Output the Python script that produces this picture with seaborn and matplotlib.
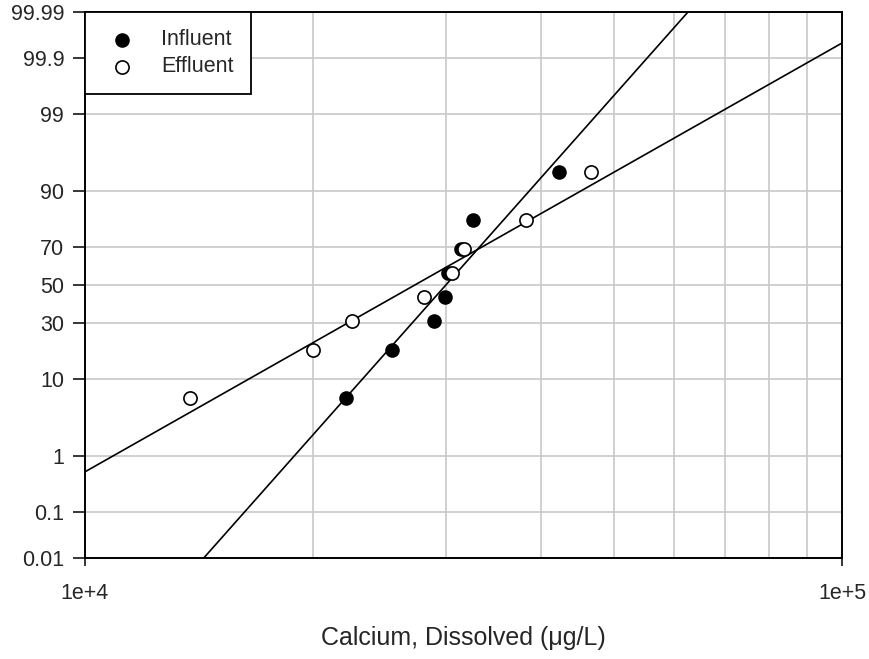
import matplotlib
matplotlib.use("Agg")
import matplotlib.pyplot as plt
import numpy as np
import pandas as pd
import seaborn as sns
from statistics import NormalDist
from matplotlib.ticker import FixedLocator, NullFormatter

# ---- data ----
influent_conc = [22110, 25420, 28880, 29900, 30140, 31420, 32530, 42330]
effluent_conc = [13760, 20030, 22510, 28070, 30570, 31650, 38210, 46600]
plot_percent = [6.25, 18.75, 31.25, 43.75, 56.25, 68.75, 81.25, 93.75]
# lognormal fit lines: (mean, std) of log10 concentration
influent_fit = (4.4767, 0.0860)
effluent_fit = (4.4357, 0.1712)
y_tick_pct = [0.01, 0.1, 1, 10, 30, 50, 70, 90, 99, 99.9, 99.99]
y_tick_labels = ["0.01", "0.1", "1", "10", "30", "50", "70", "90", "99", "99.9", "99.99"]
x_tick_vals = [1e4, 1e5]
x_tick_labels = ["1e+4", "1e+5"]
x_limits = (1e4, 1e5)

nd = NormalDist()
def z(p):
    return nd.inv_cdf(p / 100.0)

sns.set_style("white")
plt.rcParams['font.family'] = ['Liberation Sans', 'DejaVu Sans']
FS = 15.5

fig = plt.figure(figsize=(8.7, 6.59), dpi=100)
ax = fig.add_axes([85/870, 1-558/659, 757/870, 546/659])

df_in = pd.DataFrame({"conc": influent_conc, "z": [z(p) for p in plot_percent]})
df_ef = pd.DataFrame({"conc": effluent_conc, "z": [z(p) for p in plot_percent]})

def fit_df(fit):
    mu, sd = fit
    xs = list(x_limits)
    return pd.DataFrame({"conc": xs, "z": [(np.log10(x) - mu) / sd for x in xs]})

sns.lineplot(data=fit_df(influent_fit), x="conc", y="z", ax=ax, color="black",
             lw=1.2, estimator=None, sort=False, legend=False, zorder=3)
sns.lineplot(data=fit_df(effluent_fit), x="conc", y="z", ax=ax, color="black",
             lw=1.2, estimator=None, sort=False, legend=False, zorder=3)

sns.scatterplot(data=df_in, x="conc", y="z", ax=ax, color="black", edgecolor="black",
                s=90, linewidth=1, label="Influent", zorder=4)
sns.scatterplot(data=df_ef, x="conc", y="z", ax=ax, color="white", edgecolor="black",
                s=90, linewidth=1.2, label="Effluent", zorder=5)

ax.set_xscale("log")
ax.set_xlim(*x_limits)
ax.set_ylim(z(0.01), z(99.99))

ax.xaxis.set_major_locator(FixedLocator(x_tick_vals))
ax.set_xticklabels(x_tick_labels)
ax.xaxis.set_minor_locator(FixedLocator([k * 1e4 for k in range(2, 10)]))
ax.xaxis.set_minor_formatter(NullFormatter())
ax.set_yticks([z(p) for p in y_tick_pct])
ax.set_yticklabels(y_tick_labels)

ax.grid(True, which="major", axis="y", color="#c8c8c8", lw=1.2)
ax.grid(True, which="minor", axis="x", color="#c8c8c8", lw=1.2)
ax.set_axisbelow(True)

for sp in ax.spines.values():
    sp.set_visible(True)
    sp.set_color("black")
    sp.set_linewidth(1.4)

ax.tick_params(axis="y", which="major", direction="out", length=9, width=1.3,
               labelsize=FS, pad=6, left=True)
ax.tick_params(axis="x", which="major", direction="out", length=6, width=1.3,
               labelsize=FS, pad=12, bottom=True)
ax.tick_params(axis="x", which="minor", length=0)

ax.set_xlabel("Calcium, Dissolved (μg/L)", fontsize=18, labelpad=16)
ax.set_ylabel("")

leg = ax.legend(loc="upper left", bbox_to_anchor=(0, 1), borderaxespad=0,
                fancybox=False, edgecolor="black", framealpha=1, fontsize=FS,
                handlelength=1.86, handletextpad=0.88, borderpad=0.8,
                labelspacing=0.28)
leg.get_frame().set_linewidth(1.3)

fig.savefig("out.png", dpi=100)
